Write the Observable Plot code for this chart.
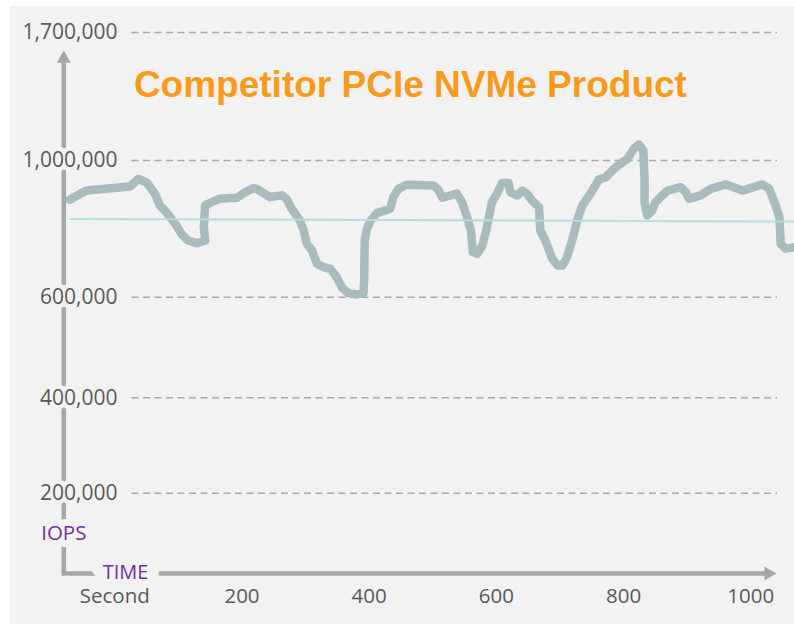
<!DOCTYPE html>
<html><head><meta charset="utf-8">
<script src="https://cdn.jsdelivr.net/npm/d3@7"></script>
<script src="https://cdn.jsdelivr.net/npm/@observablehq/plot@0.6"></script>
<style>
html,body{margin:0;padding:0;background:#ffffff;}
#chart{position:absolute;left:10px;top:6px;}
</style></head><body><div id="chart"></div>
<script>
// ---- data ----
const time = [-71, -45, 24, 37, 50, 63, 71, 81, 95, 105, 115, 129, 142, 140, 142, 155, 165, 192, 205, 218,
  223, 244, 263, 270, 278, 291, 297, 302, 310, 318, 328, 339, 349, 357, 367, 381, 391, 392, 393, 396,
  402, 412, 433, 438, 446, 459, 501, 509, 515, 538, 546, 554, 560, 563, 570, 578, 585, 593, 601, 609,
  619, 622, 633, 641, 648, 656, 667, 669, 677, 688, 696, 704, 711, 719, 727, 735, 748, 761, 772, 785,
  795, 806, 816, 824, 831, 833, 833, 837, 845, 850, 861, 869, 890, 898, 903, 921, 937, 961, 987, 1018,
  1029, 1039, 1045, 1047, 1055, 1069];
const iops = [885000, 912000, 924000, 946000, 936000, 903000, 868000, 849000, 815000, 785000, 766000, 758000, 766000, 805000, 868000, 881000, 888000, 891000, 907000, 919000,
  917000, 893000, 898000, 888000, 859000, 824000, 795000, 756000, 737000, 698000, 688000, 683000, 658000, 629000, 612000, 608000, 612000, 649000, 766000, 797000,
  824000, 846000, 859000, 893000, 917000, 929000, 927000, 914000, 891000, 903000, 878000, 834000, 795000, 732000, 727000, 751000, 805000, 878000, 903000, 934000,
  934000, 907000, 898000, 912000, 903000, 883000, 863000, 795000, 766000, 712000, 693000, 693000, 717000, 766000, 824000, 868000, 903000, 944000, 951000, 976000,
  990000, 1009000, 1064000, 1088000, 1055000, 942000, 878000, 839000, 854000, 878000, 898000, 912000, 922000, 907000, 888000, 898000, 917000, 930000, 912000, 930000,
  917000, 868000, 834000, 756000, 742000, 746000];
const meanTime = [-71, 1069];
const meanIops = [829000, 821500];
const yTicks = [200000, 400000, 600000, 1000000, 1700000];
const xTicks = [0, 200, 400, 600, 800, 1000];
const xTickLabels = ["Second", "200", "400", "600", "800", "1000"];
const title = "Competitor PCIe NVMe Product";
const yLabel = "IOPS";
const xLabel = "TIME";

// ---- layout / style ----
const W = 784, H = 618;
const mL = 53.3, mR = 24, mT = 56, mB = 51;
const fw = W - mL - mR, fh = H - mT - mB;
const bg = "#f2f2f2";
const axisColor = "#a6a6a6";
const font = "'Open Sans', 'Noto Sans', sans-serif";
const gridFrom = 27, gridTo = 1042;

const series = time.map((t, i) => ({t, v: iops[i]}));
const mean = meanTime.map((t, i) => ({t, v: meanIops[i]}));
const fmt = d3.format(",");

const chart = Plot.plot({
  width: W, height: H,
  marginLeft: mL, marginRight: mR, marginTop: mT, marginBottom: mB,
  style: {background: bg, overflow: "visible"},
  x: {domain: [0, 1000], range: [104.3, 740.3], axis: null},
  y: {type: "linear", domain: yTicks, range: [486.7, 391.3, 290.7, 154, 26], axis: null},
  marks: [
    Plot.ruleY(yTicks, {y: d => d, x1: gridFrom, x2: gridTo, stroke: "#ababab", strokeWidth: 1.4, strokeDasharray: "7,4.5"}),
    Plot.frame({stroke: axisColor, strokeWidth: 4.5, strokeDasharray: `0,${fw + fh},${fw + fh}`}),
    Plot.dot([0], {frameAnchor: "top-left", dy: -3.9, symbol: "triangle", r: 5.2, fill: axisColor}),
    Plot.dot([0], {frameAnchor: "bottom-right", dx: -2.1, symbol: "triangle", r: 5.2, fill: axisColor, rotate: 90}),
    Plot.text(yTicks, {y: d => d, frameAnchor: "left", dx: 53.7, textAnchor: "end", text: d => fmt(d),
      fontFamily: font, fontSize: 21, fill: "#595959", stroke: bg, strokeWidth: 9}),
    Plot.text([yLabel], {frameAnchor: "bottom-left", dy: -34, text: d => d, textAnchor: "middle",
      fontFamily: font, fontSize: 20.5, fill: "#7030a0", stroke: bg, strokeWidth: 14}),
    Plot.text([xLabel], {frameAnchor: "bottom-left", dx: 61.7, dy: 5, text: d => d, textAnchor: "middle",
      fontFamily: font, fontSize: 20, fill: "#7030a0", stroke: bg, strokeWidth: 24}),
    Plot.text(xTicks, {x: d => d, frameAnchor: "bottom", dy: 29.5, text: (d, i) => xTickLabels[i],
      fontFamily: font, fontSize: 20.5, fill: "#595959"}),
    Plot.line(series, {x: "t", y: "v", stroke: "#a8bbbd", strokeWidth: 8.5, strokeLinejoin: "round", strokeLinecap: "round"}),
    Plot.line(mean, {x: "t", y: "v", stroke: "#b4dee2", strokeWidth: 2}),
    Plot.text([title], {frameAnchor: "top-left", dx: 70.1, dy: 34, textAnchor: "start", lineAnchor: "bottom", text: d => d,
      fontFamily: "'Liberation Sans', Arial, sans-serif", fontWeight: "bold", fontSize: 37, fill: "#f99a1c"})
  ]
});
document.getElementById("chart").append(chart);
</script>
</body></html>
